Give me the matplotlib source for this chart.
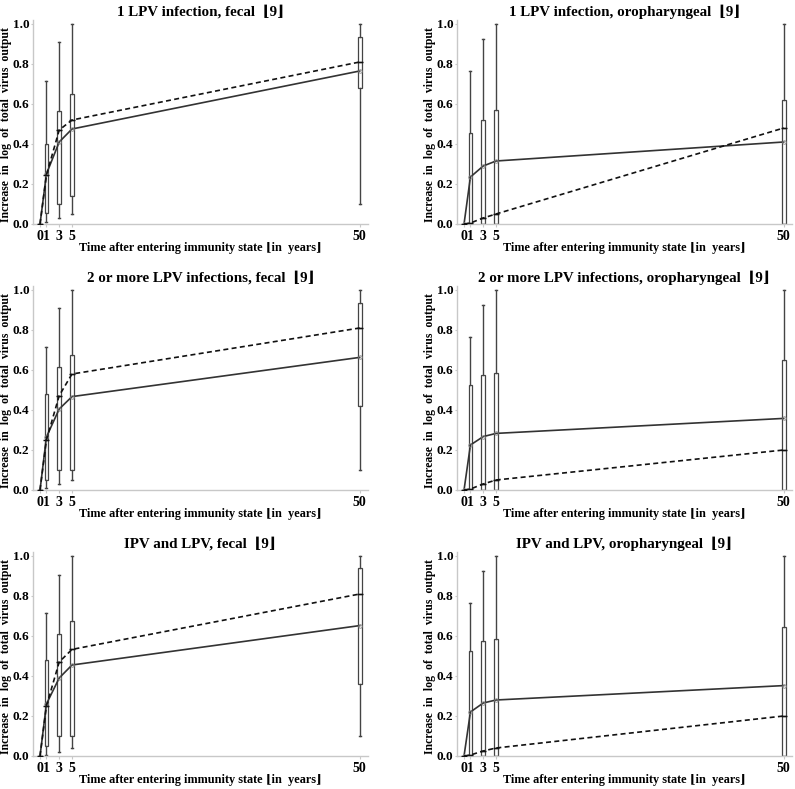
import matplotlib
matplotlib.use("Agg")
import matplotlib.pyplot as plt

plt.rcParams['font.family'] = ['Liberation Serif', 'DejaVu Serif']
plt.rcParams['font.weight'] = 'bold'

# 시간 축 (년)
times = [0, 1, 3, 5, 50]
box_times = [1, 3, 5, 50]
x_ticks = [0, 1, 3, 5, 50]
x_ticklabels = ["0", "1", "3", "5", "50"]
y_ticks = [0.0, 0.2, 0.4, 0.6, 0.8, 1.0]

titles = [
    "1 LPV infection, fecal  \u230a9\u230b",
    "1 LPV infection, oropharyngeal  \u230a9\u230b",
    "2 or more LPV infections, fecal  \u230a9\u230b",
    "2 or more LPV infections, oropharyngeal  \u230a9\u230b",
    "IPV and LPV, fecal  \u230a9\u230b",
    "IPV and LPV, oropharyngeal  \u230a9\u230b",
]

# 1 LPV, fecal
fec1_solid = [0, 0.25, 0.41, 0.475, 0.765]
fec1_dashed = [0, 0.245, 0.47, 0.52, 0.81]
fec1_lo = [0.01, 0.028, 0.05, 0.10]
fec1_q1 = [0.053, 0.10, 0.14, 0.68]
fec1_q3 = [0.40, 0.565, 0.65, 0.935]
fec1_hi = [0.715, 0.91, 1.0, 1.0]

# 1 LPV, oropharyngeal
oro1_solid = [0, 0.235, 0.29, 0.315, 0.41]
oro1_dashed = [0, 0.005, 0.03, 0.05, 0.48]
oro1_lo = [0.0, 0.0, 0.0, 0.0]
oro1_q1 = [0.0, 0.0, 0.0, 0.0]
oro1_q3 = [0.453, 0.52, 0.57, 0.62]
oro1_hi = [0.767, 0.925, 1.0, 1.0]

# 2+ LPV, fecal
fec2_solid = [0, 0.265, 0.405, 0.467, 0.663]
fec2_dashed = [0, 0.25, 0.472, 0.58, 0.81]
fec2_lo = [0.008, 0.03, 0.05, 0.10]
fec2_q1 = [0.05, 0.10, 0.10, 0.42]
fec2_q3 = [0.478, 0.613, 0.675, 0.933]
fec2_hi = [0.713, 0.908, 1.0, 1.0]

# 2+ LPV, oropharyngeal
oro2_solid = [0, 0.225, 0.267, 0.283, 0.358]
oro2_dashed = [0, 0.005, 0.03, 0.05, 0.20]
oro2_lo = [0.0, 0.0, 0.0, 0.0]
oro2_q1 = [0.0, 0.0, 0.0, 0.0]
oro2_q3 = [0.525, 0.575, 0.583, 0.65]
oro2_hi = [0.767, 0.925, 1.0, 1.0]

# IPV + LPV, fecal
fec3_solid = [0, 0.26, 0.39, 0.455, 0.652]
fec3_dashed = [0, 0.25, 0.47, 0.533, 0.81]
fec3_lo = [0.005, 0.02, 0.04, 0.10]
fec3_q1 = [0.05, 0.10, 0.10, 0.36]
fec3_q3 = [0.48, 0.61, 0.677, 0.94]
fec3_hi = [0.717, 0.905, 1.0, 1.0]

# IPV + LPV, oropharyngeal
oro3_solid = [0, 0.22, 0.265, 0.28, 0.352]
oro3_dashed = [0, 0.005, 0.025, 0.04, 0.20]
oro3_lo = [0.0, 0.0, 0.0, 0.0]
oro3_q1 = [0.0, 0.0, 0.0, 0.0]
oro3_q3 = [0.525, 0.575, 0.585, 0.647]
oro3_hi = [0.767, 0.925, 1.0, 1.0]

panels = [
    (fec1_solid, fec1_dashed, fec1_lo, fec1_q1, fec1_q3, fec1_hi),
    (oro1_solid, oro1_dashed, oro1_lo, oro1_q1, oro1_q3, oro1_hi),
    (fec2_solid, fec2_dashed, fec2_lo, fec2_q1, fec2_q3, fec2_hi),
    (oro2_solid, oro2_dashed, oro2_lo, oro2_q1, oro2_q3, oro2_hi),
    (fec3_solid, fec3_dashed, fec3_lo, fec3_q1, fec3_q3, fec3_hi),
    (oro3_solid, oro3_dashed, oro3_lo, oro3_q1, oro3_q3, oro3_hi),
]

W, H = 795, 789
fig = plt.figure(figsize=(W / 100, H / 100), dpi=100)

# 축 위치 (픽셀 기준)
col_left = [33, 457]
row_bottom = [224, 490, 756]
ax_w, ax_h = 335, 204

line_col = "#333333"
spine_col = "#c8c8c8"

for i, (solid, dashed, lo, q1, q3, hi) in enumerate(panels):
    r, c = divmod(i, 2)
    left = col_left[c] / W
    bottom = (H - row_bottom[r]) / H
    ax = fig.add_axes([left, bottom, ax_w / W, ax_h / H])

    stats = []
    for k in range(len(box_times)):
        stats.append(dict(whislo=lo[k], q1=q1[k], med=dashed[k + 1],
                          q3=q3[k], whishi=hi[k]))
    ax.bxp(stats, positions=box_times, widths=0.6, showfliers=False,
           patch_artist=True,
           boxprops=dict(facecolor="white", edgecolor="#444444", linewidth=0.9),
           whiskerprops=dict(color="#444444", linewidth=1.0),
           capprops=dict(color="#444444", linewidth=1.0),
           capwidths=0.3,
           medianprops=dict(color="#222222", linewidth=1.0),
           manage_ticks=False, zorder=2)

    ax.plot(times, solid, color=line_col, lw=1.2, marker="o", ms=2.5,
            mfc="none", mec="#888888", mew=0.6, zorder=3)
    ax.plot(times, dashed, color="#111111", lw=1.2, ls=(0, (3, 2)),
            marker="_", ms=4, mec="#111111", zorder=3)

    ax.set_xlim(-1.1, 51.3)
    ax.set_ylim(0, 1.02)
    ax.set_xticks(x_ticks)
    ax.set_xticklabels(x_ticklabels)
    ax.set_yticks(y_ticks)
    ax.set_yticklabels([f"{v:.1f}" for v in y_ticks])
    ax.tick_params(axis="x", length=2, color=spine_col, labelsize=10, pad=2)
    ax.tick_params(axis="y", length=1.5, color=spine_col, labelsize=9.5, pad=1)
    for lab in ax.get_xticklabels() + ax.get_yticklabels():
        lab.set_fontweight("bold")

    for s in ["top", "right"]:
        ax.spines[s].set_visible(False)
    for s in ["left", "bottom"]:
        ax.spines[s].set_color(spine_col)
        ax.spines[s].set_linewidth(1.0)

    ax.set_title(titles[i], fontsize=10.8, fontweight="bold", pad=3)
    xl = ax.set_xlabel("Time after entering immunity state \u230ain  years\u230b",
                       fontsize=8.8, fontweight="bold")
    xl.set_va("center")
    ax.xaxis.set_label_coords(0.5, -24 / ax_h)
    yl = ax.set_ylabel("Increase  in  log  of  total  virus  output",
                       fontsize=8.5, fontweight="bold")
    yl.set_va("center")
    ax.yaxis.set_label_coords(-27 / ax_w, 0.485)

fig.savefig("out.png", dpi=100)
